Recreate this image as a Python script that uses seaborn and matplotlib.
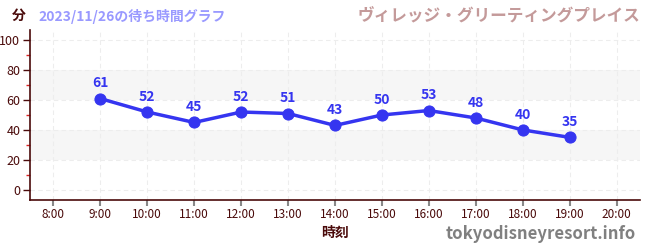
import matplotlib
matplotlib.use("Agg")
import matplotlib.pyplot as plt
import seaborn as sns
import pandas as pd
from matplotlib.ticker import MultipleLocator

hours = [9, 10, 11, 12, 13, 14, 15, 16, 17, 18, 19]
waits = [61, 52, 45, 52, 51, 43, 50, 53, 48, 40, 35]
tick_hours = list(range(8, 21))
tick_labels = [f"{h}:00" for h in tick_hours]

sns.set_theme(style="white")
plt.rcParams['font.family'] = ['Noto Sans CJK JP', 'DejaVu Sans']

dark = "#4a0a0a"
blue = "#3535f0"

fig = plt.figure(figsize=(6.5, 2.5), dpi=100)
ax = fig.add_axes([30/650, 0.2, 610/650, 0.68])

for lo, hi in [(20, 40), (60, 80)]:
    ax.axhspan(lo, hi, color="#f6f6f6", zorder=0, lw=0)

df = pd.DataFrame({"hour": hours, "wait": waits})
sns.lineplot(data=df, x="hour", y="wait", ax=ax, color=blue, lw=2.5,
             marker="o", markersize=8, markeredgecolor=blue, zorder=3)
for h, w in zip(hours, waits):
    ax.annotate(str(w), (h, w), xytext=(0, 6), textcoords="offset points",
                ha="center", va="bottom", color=blue, fontsize=10, fontweight="bold")

ax.set_xlim(7.5, 20.5)
ax.set_ylim(-7, 107)
ax.set_xticks(tick_hours)
ax.set_xticklabels(tick_labels)
ax.set_yticks(range(0, 101, 20))
ax.yaxis.set_minor_locator(MultipleLocator(10))
ax.grid(True, which="major", color="#ededed", ls=(0, (4, 3)), lw=0.8)
ax.set_axisbelow(True)

for s in ["top", "right"]:
    ax.spines[s].set_visible(False)
for s in ["left", "bottom"]:
    ax.spines[s].set_color(dark)
    ax.spines[s].set_linewidth(1.2)

ax.tick_params(axis="y", which="major", length=5, width=1, color=dark,
               labelcolor=dark, labelsize=9, left=True, pad=2)
ax.tick_params(axis="y", which="minor", length=3, width=1, color="#dd2222", left=True)
ax.tick_params(axis="x", which="major", length=4, width=1.5, color="#888888",
               labelcolor=dark, labelsize=8.5, bottom=True, pad=2)
ax.set_xlabel("時刻", color=dark, fontsize=10, fontweight="bold", labelpad=3)
ax.set_ylabel("")

fig.text(12/650, 1 - 16/250, "分", color=dark, fontsize=10, fontweight="bold", va="center")
fig.text(38/650, 1 - 16/250, "2023/11/26の待ち時間グラフ", color="#9999ff", fontsize=10,
         fontweight="bold", va="center")
fig.text(640/650, 1 - 15/250, "ヴィレッジ・グリーティングプレイス", color="#c49a9a",
         fontsize=12, fontweight="bold", va="center", ha="right")
fig.text(636/650, 1 - 234/250, "tokyodisneyresort.info", color="#808080",
         fontsize=12, fontweight="bold", va="center", ha="right")

fig.savefig("out.png", dpi=100)
